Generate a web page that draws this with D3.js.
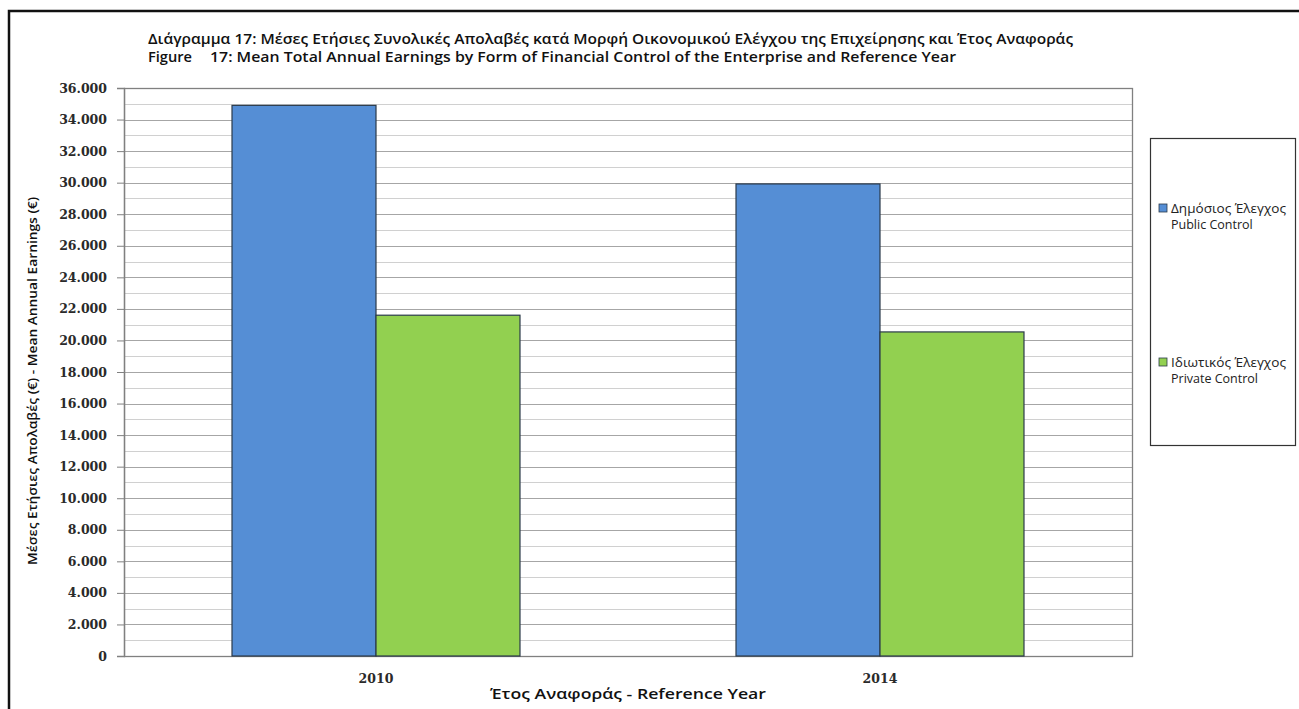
<!DOCTYPE html>
<html>
<head>
<meta charset="utf-8">
<script src="https://cdn.jsdelivr.net/npm/d3@7"></script>
<style>
  html, body { margin: 0; padding: 0; background: #fff; }
  svg { display: block; }
</style>
</head>
<body>
<svg id="chart" width="1299" height="709"></svg>
<script>
// ---- data ----
const categories = ["2010", "2014"];
const seriesNames = ["Δημόσιος Έλεγχος", "Ιδιωτικός Έλεγχος"];
const seriesNamesEn = ["Public Control", "Private Control"];
const publicControl = [34900, 29920];
const privateControl = [21600, 20540];
const yTicks = [0, 2000, 4000, 6000, 8000, 10000, 12000, 14000, 16000, 18000, 20000, 22000, 24000, 26000, 28000, 30000, 32000, 34000, 36000];
const yMinorTicks = d3.range(1000, 36000, 2000);
const titleLine1 = "Διάγραμμα 17: Μέσες Ετήσιες Συνολικές Απολαβές κατά Μορφή Οικονομικού Ελέγχου της Επιχείρησης και Έτος Αναφοράς";
const titleLine2a = "Figure";
const titleLine2b = "17: Mean Total Annual Earnings by Form of Financial Control of the Enterprise and Reference Year";
const xTitle = "Έτος  Αναφοράς - Reference  Year";
const yTitle = "Μέσες  Ετήσιες Απολαβές (€) - Mean Annual Earnings (€)";

const colors = ["#558ed5", "#92d050"];
const seriesValues = [publicControl, privateControl];

const svg = d3.select("#chart");
const plot = { left: 124, right: 1132, top: 88, bottom: 656 };

// outer frame
svg.append("rect")
  .attr("x", 9).attr("y", 11).attr("width", 1400).attr("height", 800)
  .attr("fill", "none").attr("stroke", "#111").attr("stroke-width", 2.5);

const locale = d3.formatLocale({ decimal: ",", thousands: ".", grouping: [3], currency: ["", "€"] });
const fmt = locale.format(",d");

const y = d3.scaleLinear().domain([0, 36000]).range([plot.bottom, plot.top]);
const x0 = d3.scaleBand().domain(categories).range([plot.left, plot.right])
  .paddingInner(0.4286).paddingOuter(0.2143);
const x1 = d3.scaleBand().domain(d3.range(seriesNames.length)).range([0, x0.bandwidth()]);

// plot background
svg.append("rect")
  .attr("x", plot.left).attr("y", plot.top)
  .attr("width", plot.right - plot.left).attr("height", plot.bottom - plot.top)
  .attr("fill", "#fff");

// minor gridlines
svg.append("g").selectAll("line").data(yMinorTicks).join("line")
  .attr("x1", plot.left).attr("x2", plot.right)
  .attr("y1", d => Math.round(y(d)) + 0.5).attr("y2", d => Math.round(y(d)) + 0.5)
  .attr("stroke", "#d0d0d0").attr("stroke-width", 1.2);
// major gridlines
svg.append("g").selectAll("line").data(yTicks.filter(d => d > 0 && d < 36000)).join("line")
  .attr("x1", plot.left).attr("x2", plot.right)
  .attr("y1", d => Math.round(y(d)) + 0.5).attr("y2", d => Math.round(y(d)) + 0.5)
  .attr("stroke", "#a6a6a6").attr("stroke-width", 1.2);

// plot border
svg.append("rect")
  .attr("x", plot.left + 0.5).attr("y", plot.top + 0.5)
  .attr("width", plot.right - plot.left).attr("height", plot.bottom - plot.top)
  .attr("fill", "none").attr("stroke", "#808080").attr("stroke-width", 1.3);

// bars
const groups = svg.append("g").selectAll("g").data(categories).join("g")
  .attr("transform", d => `translate(${x0(d)},0)`);
groups.selectAll("rect")
  .data((d, i) => seriesValues.map((vals, s) => ({ s, v: vals[i] })))
  .join("rect")
  .attr("x", d => x1(d.s))
  .attr("width", x1.bandwidth())
  .attr("y", d => y(d.v))
  .attr("height", d => y(0) - y(d.v))
  .attr("fill", d => colors[d.s])
  .attr("stroke", "#2b3a4a").attr("stroke-width", 1.2);

// y axis
const yAxis = d3.axisLeft(y).tickValues(yTicks).tickFormat(fmt).tickSize(7).tickPadding(10);
const yg = svg.append("g").attr("transform", `translate(${plot.left},0)`).call(yAxis);
yg.select(".domain").attr("stroke", "#808080").attr("stroke-width", 1.3);
yg.selectAll(".tick line").attr("stroke", "#808080");
yg.selectAll(".tick text")
  .attr("font-family", "'DejaVu Serif', serif").attr("font-size", 12.5).attr("font-weight", "bold")
  .attr("fill", "#2a2a2a");

// x axis labels
const xAxis = d3.axisBottom(x0).tickSize(0).tickPadding(18);
const xg = svg.append("g").attr("transform", `translate(0,${plot.bottom})`).call(xAxis);
xg.select(".domain").remove();
xg.selectAll(".tick text")
  .attr("font-family", "'DejaVu Serif', serif").attr("font-size", 12.5).attr("font-weight", "bold")
  .attr("fill", "#2a2a2a");

// titles
const tFont = "'Open Sans', 'Noto Sans', sans-serif";
svg.append("text").attr("x", 148).attr("y", 44)
  .attr("font-family", tFont).attr("font-size", 14).attr("font-weight", 600).attr("fill", "#111")
  .attr("textLength", 925).attr("lengthAdjust", "spacingAndGlyphs").text(titleLine1);
svg.append("text").attr("x", 148).attr("y", 62)
  .attr("font-family", tFont).attr("font-size", 14).attr("font-weight", 600).attr("fill", "#111")
  .attr("textLength", 44).attr("lengthAdjust", "spacingAndGlyphs").text(titleLine2a);
svg.append("text").attr("x", 210).attr("y", 62)
  .attr("font-family", tFont).attr("font-size", 14).attr("font-weight", 600).attr("fill", "#111")
  .attr("textLength", 746).attr("lengthAdjust", "spacingAndGlyphs").text(titleLine2b);

// x title
svg.append("text").attr("x", 490).attr("y", 699)
  .attr("font-family", tFont).attr("font-size", 13.5).attr("font-weight", 600).attr("fill", "#111")
  .attr("textLength", 276).attr("lengthAdjust", "spacingAndGlyphs").text(xTitle);

// y title
svg.append("text")
  .attr("transform", `translate(37,${(plot.top + plot.bottom) / 2 + 9}) rotate(-90)`)
  .attr("text-anchor", "middle")
  .attr("font-family", tFont).attr("font-size", 13).attr("font-weight", 600).attr("fill", "#111")
  .attr("textLength", 368).attr("lengthAdjust", "spacingAndGlyphs").text(yTitle);

// legend
svg.append("rect").attr("x", 1150.5).attr("y", 138.5).attr("width", 145).attr("height", 307)
  .attr("fill", "#fff").attr("stroke", "#333").attr("stroke-width", 1.2);
const legendY = [208, 362];
const lg = svg.append("g").selectAll("g").data(seriesNames).join("g")
  .attr("transform", (d, i) => `translate(1159,${legendY[i]})`);
lg.append("rect").attr("x", 0).attr("y", -4).attr("width", 8).attr("height", 8)
  .attr("fill", (d, i) => colors[i]).attr("stroke", "#2b3a4a").attr("stroke-width", 0.8);
lg.append("text").attr("x", 12).attr("y", 4.5)
  .attr("font-family", tFont).attr("font-size", 12.5).attr("fill", "#222")
  .attr("textLength", 115).attr("lengthAdjust", "spacingAndGlyphs")
  .text(d => d);
lg.append("text").attr("x", 12).attr("y", 20.5)
  .attr("font-family", tFont).attr("font-size", 12.5).attr("fill", "#222")
  .text((d, i) => seriesNamesEn[i]);
</script>
</body>
</html>
